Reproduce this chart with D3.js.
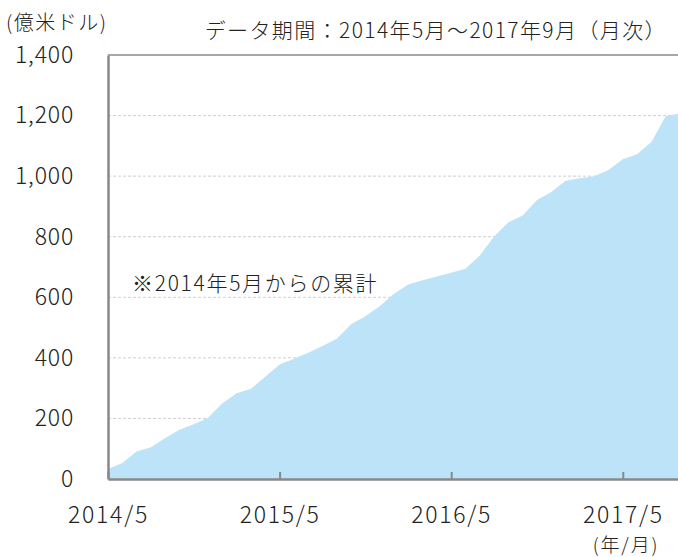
<!DOCTYPE html>
<html>
<head>
<meta charset="utf-8">
<script src="https://cdn.jsdelivr.net/npm/d3@7"></script>
<style>
  body { margin: 0; background: #fff; }
  text { font-family: "Noto Sans CJK JP", "Noto Sans", sans-serif; font-weight: 300; fill: #222; }
</style>
</head>
<body>
<script>
// months, 2014/5 .. 2017/9
var months = [
  "2014/5","2014/6","2014/7","2014/8","2014/9","2014/10","2014/11","2014/12",
  "2015/1","2015/2","2015/3","2015/4","2015/5","2015/6","2015/7","2015/8","2015/9","2015/10","2015/11","2015/12",
  "2016/1","2016/2","2016/3","2016/4","2016/5","2016/6","2016/7","2016/8","2016/9","2016/10","2016/11","2016/12",
  "2017/1","2017/2","2017/3","2017/4","2017/5","2017/6","2017/7","2017/8","2017/9"
];
// cumulative, 100 million USD
var cumulative = [
  33, 53, 91, 105, 135, 163, 181, 202,
  250, 283, 298, 338, 378, 397, 417, 439, 463, 511, 537, 570,
  612, 642, 656, 669, 681, 694, 738, 801, 848, 870, 921, 948,
  985, 993, 1000, 1020, 1056, 1072, 1113, 1198, 1207
];
var xTickLabels = ["2014/5", "2015/5", "2016/5", "2017/5"];
var yTicks = [0, 200, 400, 600, 800, 1000, 1200, 1400];

function init(){
    var w = 678;
    var h = 557;

    var svg = d3.select("body")
        .append("svg")
        .attr("width", w)
        .attr("height", h);

    var x = d3.scalePoint()
        .domain(months)
        .range([108, 680]);

    var y = d3.scaleLinear()
        .domain([0, 1400])
        .range([479, 55]);

    var data = months.map(function(m, i){ return {month: m, value: cumulative[i]}; });

    // grid lines
    svg.append("g")
        .selectAll("line")
        .data(yTicks.filter(function(d){ return d > 0 && d < 1400; }))
        .enter()
        .append("line")
        .attr("x1", 108)
        .attr("x2", w)
        .attr("y1", function(d){ return y(d); })
        .attr("y2", function(d){ return y(d); })
        .attr("stroke", "#cfcfcf")
        .attr("stroke-width", 1)
        .attr("stroke-dasharray", "3,2");

    // top border
    svg.append("line")
        .attr("x1", 108).attr("x2", w)
        .attr("y1", y(1400)).attr("y2", y(1400))
        .attr("stroke", "#a8a8a8")
        .attr("stroke-width", 2);

    // area
    var area = d3.area()
        .x(function(d){ return x(d.month); })
        .y0(y(0))
        .y1(function(d){ return y(d.value); });

    svg.append("path")
        .datum(data)
        .attr("d", area)
        .attr("fill", "#bce3f7");

    // y axis
    var yAxis = svg.append("g")
        .attr("transform", "translate(108,0)")
        .call(d3.axisLeft(y).tickValues(yTicks).tickFormat(d3.format(",")).tickSize(0).tickPadding(34));
    yAxis.select(".domain").attr("stroke", "#888").attr("stroke-width", 2.5);
    yAxis.selectAll("text")
        .style("font-size", "23px")
        .style("letter-spacing", "0.8px")
        .attr("fill", "#222");

    // x axis
    var xAxis = svg.append("g")
        .attr("transform", "translate(0," + y(0) + ")")
        .call(d3.axisBottom(x).tickValues(xTickLabels).tickSizeInner(-7).tickSizeOuter(0).tickPadding(28));
    xAxis.select(".domain").attr("stroke", "#888").attr("stroke-width", 2.5);
    xAxis.selectAll(".tick line").attr("stroke", "#888").attr("stroke-width", 2);
    xAxis.selectAll("text")
        .style("font-size", "23px")
        .style("letter-spacing", "1.7px")
        .attr("fill", "#222");

    // labels
    svg.append("text")
        .attr("x", 6)
        .attr("y", 30)
        .style("font-size", "20px")
        .style("letter-spacing", "1.5px")
        .text("(億米ドル)");

    svg.append("text")
        .attr("x", 667)
        .attr("y", 38)
        .attr("text-anchor", "end")
        .style("font-size", "21px")
        .style("letter-spacing", "1.4px")
        .text("データ期間：2014年5月～2017年9月（月次）");

    svg.append("text")
        .attr("x", 132)
        .attr("y", 291)
        .style("font-size", "21px")
        .style("letter-spacing", "1.7px")
        .text("※2014年5月からの累計");

    svg.append("text")
        .attr("x", 626)
        .attr("y", 552)
        .attr("text-anchor", "middle")
        .style("font-size", "19px")
        .style("letter-spacing", "1.8px")
        .text("(年/月)");
}
window.onload = init;
</script>
</body>
</html>
